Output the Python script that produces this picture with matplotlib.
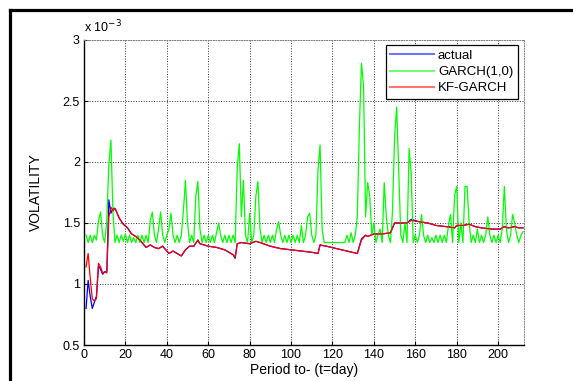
import numpy as np
import matplotlib.pyplot as plt
from matplotlib.lines import Line2D

plt.rcParams['font.family'] = ['Liberation Sans', 'DejaVu Sans']

# GARCH(1,0) estimate, one value per day (x 1e-3)
garch_vals = [
    1.40, 1.34, 1.40, 1.34, 1.40, 1.36, 1.52, 1.59, 1.40, 1.34,
    1.52, 1.98, 2.18, 1.58, 1.34, 1.40, 1.34, 1.40, 1.35, 1.41,
    1.34, 1.40, 1.34, 1.38, 1.34, 1.40, 1.34, 1.40, 1.34, 1.40,
    1.34, 1.52, 1.59, 1.40, 1.34, 1.45, 1.59, 1.40, 1.34, 1.40,
    1.45, 1.58, 1.40, 1.34, 1.40, 1.34, 1.40, 1.60, 1.85, 1.50,
    1.34, 1.40, 1.34, 1.72, 1.84, 1.45, 1.34, 1.40, 1.34, 1.40,
    1.34, 1.40, 1.34, 1.42, 1.50, 1.40, 1.34, 1.40, 1.34, 1.40,
    1.34, 1.40, 1.34, 1.95, 2.15, 1.55, 1.85, 1.40, 1.34, 1.58,
    1.34, 1.40, 1.72, 1.84, 1.45, 1.34, 1.40, 1.34, 1.40, 1.34,
    1.40, 1.34, 1.45, 1.51, 1.40, 1.34, 1.40, 1.34, 1.40, 1.34,
    1.40, 1.34, 1.40, 1.34, 1.48, 1.34, 1.40, 1.55, 1.58, 1.40,
    1.34, 1.40, 1.93, 2.14, 1.45, 1.34, 1.34, 1.34, 1.34, 1.34,
    1.34, 1.34, 1.34, 1.34, 1.34, 1.34, 1.40, 1.34, 1.42, 1.34,
    1.40, 1.55, 2.29, 2.81, 2.63, 1.55, 1.83, 1.72, 1.40, 1.50,
    1.34, 1.40, 1.45, 1.34, 1.83, 1.55, 1.40, 1.34, 1.60, 2.21,
    2.45, 1.93, 1.40, 1.34, 1.50, 1.34, 2.11, 1.91, 1.34, 1.40,
    1.34, 1.40, 1.57, 1.40, 1.34, 1.40, 1.34, 1.38, 1.34, 1.40,
    1.34, 1.40, 1.34, 1.40, 1.34, 1.48, 1.57, 1.34, 1.73, 1.80,
    1.34, 1.50, 1.34, 1.80, 1.80, 1.50, 1.34, 1.40, 1.34, 1.45,
    1.34, 1.40, 1.34, 1.40, 1.55, 1.40, 1.34, 1.40, 1.34, 1.40,
    1.34, 1.45, 1.80, 1.45, 1.34, 1.40, 1.57, 1.50, 1.40, 1.34,
    1.40, 1.43,
]
garch_days = np.arange(1, len(garch_vals) + 1)

# KF-GARCH estimate, read at key days
kf_days = [1, 2, 3, 4, 5, 6, 7, 8, 9, 10, 11, 12, 13, 14, 15, 17, 19, 21, 23,
           25, 27, 29, 30, 32, 34, 36, 38, 39, 41, 43, 45, 47, 49, 51, 53, 55,
           56, 60, 64, 68, 72, 73, 74, 76, 80, 83, 85, 90, 95, 100, 105, 110,
           113, 114, 117, 122, 127, 132, 134, 136, 137, 140, 144, 148, 150,
           156, 158, 162, 166, 170, 175, 179, 180, 183, 186, 189, 192, 197,
           201, 203, 205, 208, 210, 212]
kf_vals = [1.14, 1.25, 1.05, 0.88, 0.86, 0.88, 1.17, 1.14, 1.09, 1.10, 1.09,
           1.55, 1.63, 1.60, 1.62, 1.54, 1.49, 1.46, 1.41, 1.39, 1.36, 1.32,
           1.30, 1.32, 1.30, 1.29, 1.31, 1.29, 1.25, 1.27, 1.25, 1.23, 1.28,
           1.31, 1.31, 1.36, 1.33, 1.31, 1.30, 1.28, 1.24, 1.22, 1.33, 1.34,
           1.33, 1.35, 1.34, 1.31, 1.29, 1.28, 1.27, 1.26, 1.25, 1.32, 1.31,
           1.29, 1.27, 1.25, 1.36, 1.40, 1.39, 1.41, 1.41, 1.42, 1.50, 1.50,
           1.52, 1.51, 1.50, 1.48, 1.47, 1.46, 1.48, 1.48, 1.49, 1.47, 1.46,
           1.45, 1.45, 1.47, 1.46, 1.47, 1.46, 1.46]

# actual volatility, read at key days
act_days = [1, 2, 3, 4, 5, 6, 7, 8, 9, 10, 11, 12, 13, 14, 15, 17, 19, 21, 23,
            25, 27, 29, 30, 32, 34, 36, 38, 39, 41, 43, 45, 47, 49, 51, 53, 55,
            56, 60, 64, 68, 72, 73, 74, 76, 80, 83, 85, 90, 95, 100, 105, 110,
            113, 114, 117, 122, 127, 132, 134, 136, 137, 140, 144, 148, 150,
            156, 158, 162, 166, 170, 175, 179, 180, 183, 186, 189, 192, 197,
            201, 203, 205, 208, 210, 212]
act_vals = [0.80, 1.03, 0.90, 0.80, 0.85, 0.90, 1.15, 1.12, 1.08, 1.10, 1.10,
            1.69, 1.58, 1.62, 1.62, 1.54, 1.49, 1.46, 1.41, 1.39, 1.36, 1.32,
            1.30, 1.32, 1.30, 1.29, 1.31, 1.29, 1.25, 1.27, 1.25, 1.23, 1.28,
            1.31, 1.31, 1.36, 1.33, 1.31, 1.30, 1.28, 1.24, 1.21, 1.33, 1.34,
            1.33, 1.35, 1.34, 1.31, 1.29, 1.28, 1.27, 1.26, 1.25, 1.32, 1.31,
            1.29, 1.27, 1.25, 1.37, 1.40, 1.39, 1.41, 1.41, 1.42, 1.50, 1.50,
            1.53, 1.51, 1.50, 1.48, 1.47, 1.46, 1.48, 1.48, 1.49, 1.47, 1.46,
            1.45, 1.45, 1.47, 1.46, 1.47, 1.46, 1.46]

fig = plt.figure(figsize=(5.73, 3.81), dpi=100)
ax = fig.add_axes([84 / 573, 1 - 345 / 381, 440 / 573, 305 / 381])

ax.plot(act_days, act_vals, color='#0000ff', lw=0.9, label='actual')
ax.plot(garch_days, garch_vals, color='#00ff00', lw=0.9, label='GARCH(1,0)')
ax.plot(kf_days, kf_vals, color='#ff0000', lw=0.9, label='KF-GARCH')

ax.set_xlim(0, 212.5)
ax.set_ylim(0.5, 3)
ax.set_xticks(range(0, 201, 20))
ax.set_yticks([0.5, 1, 1.5, 2, 2.5, 3])
ax.set_yticklabels(['0.5', '1', '1.5', '2', '2.5', '3'])
ax.tick_params(direction='in', length=3, labelsize=9, pad=3, width=0.8)
ax.grid(True, linestyle=':', color='0.2', lw=0.7)
for s in ['top', 'right']:
    ax.spines[s].set_linestyle(':')
    ax.spines[s].set_color('0.5')
    ax.spines[s].set_linewidth(0.7)
for s in ['left', 'bottom']:
    ax.spines[s].set_linewidth(1.0)

ax.set_xlabel('Period to- (t=day)', fontsize=10, labelpad=1)
ax.set_ylabel('VOLATILITY', fontsize=10, labelpad=14)
ax.text(0.0, 1.015, 'x 10$^{-3}$', transform=ax.transAxes, fontsize=9,
        ha='left', va='bottom')

leg = ax.legend(loc='upper right', bbox_to_anchor=(0.986, 0.983), fontsize=9.5,
                fancybox=False, framealpha=1, edgecolor='black',
                handlelength=3.3, handletextpad=0.3, labelspacing=0.3,
                borderpad=0.35, borderaxespad=0)
leg.get_frame().set_linewidth(0.9)
for h in leg.get_lines():
    h.set_linewidth(1.5)
    h.set_alpha(0.55)

# outer window frame
fig.add_artist(Line2D([9.7 / 573, 9.7 / 573], [0, 1 - 9.7 / 381],
                      transform=fig.transFigure, color='black', lw=2.3))
fig.add_artist(Line2D([9.7 / 573, 1], [1 - 9.7 / 381, 1 - 9.7 / 381],
                      transform=fig.transFigure, color='black', lw=2.3))

fig.savefig('out.png', dpi=100)
